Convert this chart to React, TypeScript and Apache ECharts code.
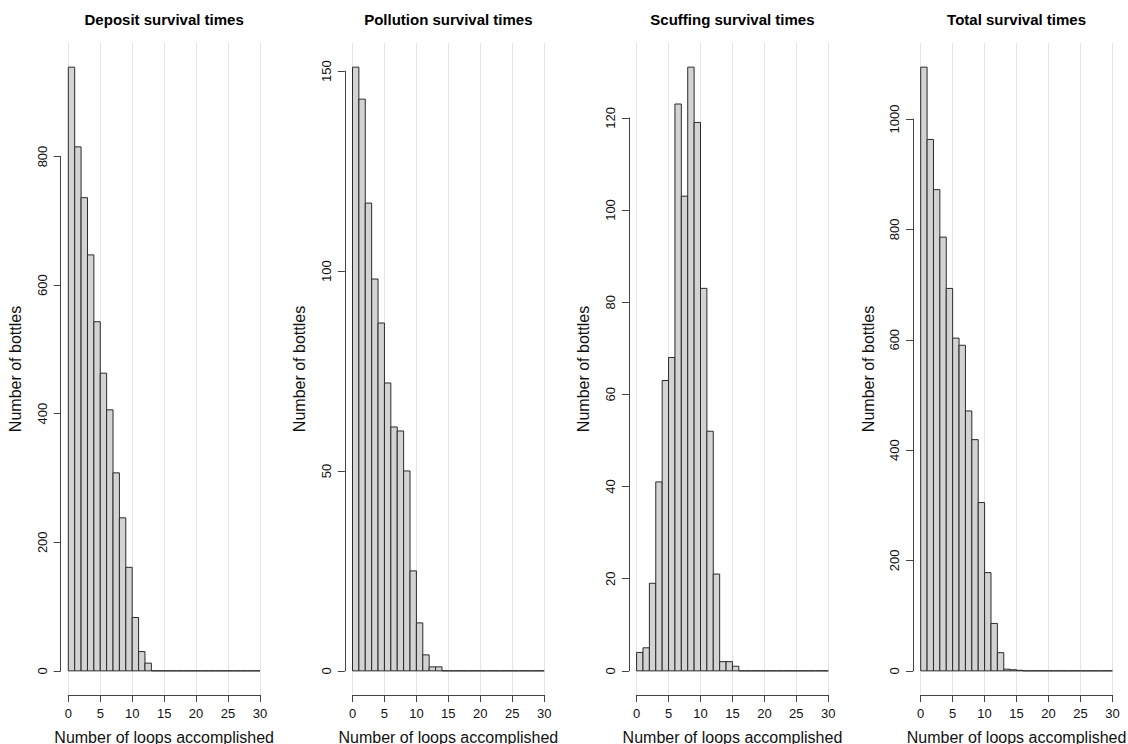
import React, { useEffect, useRef } from "react";
import * as echarts from "echarts";

const panelTitles = [
  "Deposit survival times",
  "Pollution survival times",
  "Scuffing survival times",
  "Total survival times",
];

// counts per bin [k, k+1), k = 0..29
const depositCounts = [939, 815, 736, 647, 543, 463, 406, 308, 238, 161, 83, 30, 12, 0, 0, 0, 0, 0, 0, 0, 0, 0, 0, 0, 0, 0, 0, 0, 0, 0];
const pollutionCounts = [151, 143, 117, 98, 87, 72, 61, 60, 50, 25, 12, 4, 1, 1, 0, 0, 0, 0, 0, 0, 0, 0, 0, 0, 0, 0, 0, 0, 0, 0];
const scuffingCounts = [4, 5, 19, 41, 63, 68, 123, 103, 131, 119, 83, 52, 21, 2, 2, 1, 0, 0, 0, 0, 0, 0, 0, 0, 0, 0, 0, 0, 0, 0];
const totalCounts = [1094, 963, 872, 786, 693, 603, 590, 471, 419, 305, 178, 86, 33, 3, 2, 1, 0, 0, 0, 0, 0, 0, 0, 0, 0, 0, 0, 0, 0, 0];

const yTickMax = [800, 150, 120, 1000];
const yTickStep = [200, 50, 20, 200];

const xLabel = "Number of loops accomplished";
const yLabel = "Number of bottles";

const FONT = "'Liberation Sans', Arial, Helvetica, sans-serif";

export default function App() {
  const ref = useRef<HTMLDivElement>(null);
  useEffect(() => {
    if (!ref.current) return;
    const chart = echarts.init(ref.current, null, { renderer: "svg" });
    const allCounts = [depositCounts, pollutionCounts, scuffingCounts, totalCounts];

    const x0s = [68.3, 352.5, 636.6, 920.7];
    const xw = 191.7;
    const plotTop = 43;
    const plotBottom = 695;
    const plotH = plotBottom - plotTop;
    const yOff = 1.2 * (xw / 30);

    const grids: any[] = [];
    const xAxes: any[] = [];
    const yAxes: any[] = [];
    const series: any[] = [];
    const graphics: any[] = [];

    allCounts.forEach((counts, i) => {
      const M = Math.max(...counts);
      const lo = -0.04 * M;
      const hi = 1.04 * M;
      const yPix = (v: number) => plotBottom - ((v - lo) / (hi - lo)) * plotH;
      const x0 = x0s[i];
      grids.push({ left: x0, top: plotTop, width: xw, height: plotH, outerBoundsMode: "none" });
      const T = yTickMax[i];
      grids.push({ left: x0, top: yPix(T), width: xw, height: yPix(0) - yPix(T), outerBoundsMode: "none" });

      xAxes.push({
        type: "value",
        gridIndex: 2 * i,
        min: 0,
        max: 30,
        interval: 5,
        axisLine: { show: true, onZero: false, lineStyle: { color: "#444", width: 1 } },
        axisTick: { show: true, length: 7, lineStyle: { color: "#444", width: 1 } },
        axisLabel: { show: true, margin: 12, color: "#111", fontSize: 13, fontFamily: FONT },
        splitLine: { show: true, lineStyle: { color: "#e3e3e3", width: 1 } },
        name: xLabel,
        nameLocation: "middle",
        nameGap: 34,
        nameTextStyle: { color: "#111", fontSize: 16, fontFamily: FONT },
      });
      xAxes.push({
        type: "value",
        gridIndex: 2 * i + 1,
        min: 0,
        max: 30,
        show: false,
      });
      yAxes.push({
        type: "value",
        gridIndex: 2 * i,
        min: lo,
        max: hi,
        offset: yOff,
        axisLine: { show: false, onZero: false },
        axisTick: { show: false },
        axisLabel: { show: false },
        splitLine: { show: false },
        name: yLabel,
        nameLocation: "middle",
        nameGap: 37,
        nameRotate: 90,
        nameTextStyle: { color: "#111", fontSize: 16, fontFamily: FONT },
      });
      yAxes.push({
        type: "value",
        gridIndex: 2 * i + 1,
        min: 0,
        max: T,
        interval: yTickStep[i],
        offset: yOff,
        axisLine: { show: true, onZero: false, lineStyle: { color: "#444", width: 1 } },
        axisTick: { show: true, length: 7, lineStyle: { color: "#444", width: 1 } },
        axisLabel: {
          show: true,
          rotate: 90,
          margin: 12,
          color: "#111",
          fontSize: 13,
          fontFamily: FONT,
          formatter: (v: number) => String(v),
        },
        splitLine: { show: false },
      });

      series.push({
        type: "custom",
        xAxisIndex: 2 * i,
        yAxisIndex: 2 * i,
        encode: { x: 0, y: 1 },
        data: counts.map((c, k) => [k, c]),
        renderItem: (params: any, api: any) => {
          const k = api.value(0);
          const v = api.value(1);
          const p0 = api.coord([k, 0]);
          const p1 = api.coord([k + 1, v]);
          return {
            type: "rect",
            shape: { x: p0[0], y: p1[1], width: p1[0] - p0[0], height: p0[1] - p1[1] },
            style: { fill: "#d3d3d3", stroke: "#2a2a2a", lineWidth: 1 },
          };
        },
      });

      graphics.push({
        type: "text",
        x: x0 + xw / 2,
        y: 19,
        style: {
          text: panelTitles[i],
          textAlign: "center",
          textVerticalAlign: "middle",
          fill: "#000",
          font: `bold 15px ${FONT}`,
        },
      });
    });

    chart.setOption({
      animation: false,
      backgroundColor: "#ffffff",
      textStyle: { fontFamily: FONT },
      grid: grids,
      xAxis: xAxes,
      yAxis: yAxes,
      series,
      graphic: graphics,
    });
    return () => chart.dispose();
  }, []);
  return (
    <div
      ref={ref}
      style={{ position: "fixed", left: 0, top: 0, width: 1128, height: 744, background: "#fff" }}
    />
  );
}
